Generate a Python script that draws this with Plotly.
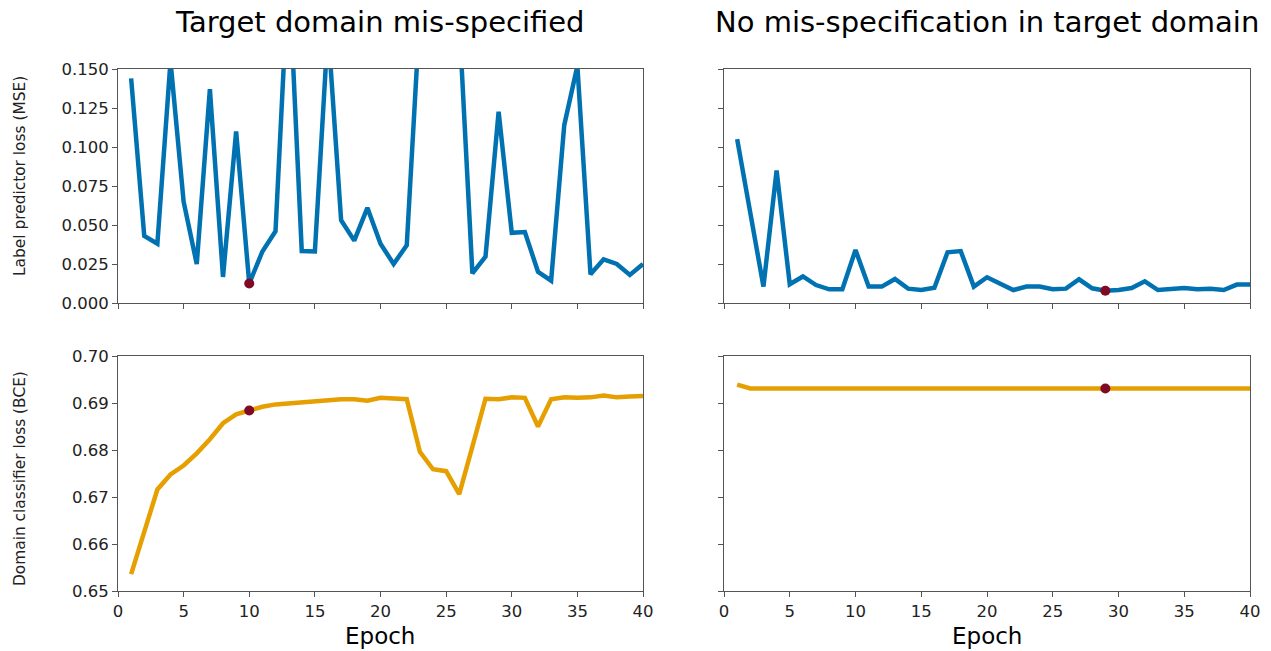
import plotly.graph_objects as go

epochs = list(range(1, 41))

mse_misspec = [0.144, 0.043, 0.038, 0.155, 0.065, 0.025, 0.137, 0.0167, 0.110, 0.0125,
               0.033, 0.046, 0.215, 0.0333, 0.033, 0.176, 0.053, 0.040, 0.061, 0.038,
               0.025, 0.037, 0.186, 0.30, 0.26, 0.181, 0.019, 0.0297, 0.1226, 0.045,
               0.0455, 0.020, 0.0143, 0.114, 0.152, 0.0184, 0.028, 0.025, 0.018, 0.025]
bce_misspec = [0.6536, 0.6626, 0.6716, 0.6748, 0.6767, 0.6793, 0.6823, 0.6857, 0.6876, 0.6884,
               0.6892, 0.6897, 0.6899, 0.6901, 0.6903, 0.6907, 0.6908, 0.6908, 0.6905, 0.6911,
               0.6910, 0.6908, 0.6796, 0.6759, 0.6755, 0.6706, 0.6807, 0.6909, 0.6908, 0.6912,
               0.6911, 0.6850, 0.6908, 0.6912, 0.6911, 0.6912, 0.6916, 0.6912, 0.6914, 0.6915]
mse_ok = [0.105, 0.057, 0.0105, 0.085, 0.012, 0.017, 0.0115, 0.0088, 0.0088, 0.034,
          0.0105, 0.0105, 0.0154, 0.0092, 0.0083, 0.0098, 0.0325, 0.0333, 0.0105, 0.0165,
          0.0126, 0.0083, 0.0105, 0.0105, 0.0088, 0.0092, 0.0152, 0.0094, 0.0079, 0.0083,
          0.0096, 0.0139, 0.0083, 0.0088, 0.0096, 0.0088, 0.0092, 0.0083, 0.0118, 0.0118]
bce_ok = [0.6939] + [0.6931] * 23 + [0.6929] + [0.6931] * 15

titles = ["Target domain mis-specified", "No mis-specification in target domain"]
x_ticks = [0, 5, 10, 15, 20, 25, 30, 35, 40]
mse_ticks = [0.0, 0.025, 0.05, 0.075, 0.1, 0.125, 0.15]
bce_ticks = [0.65, 0.66, 0.67, 0.68, 0.69, 0.70]

BLUE = "#0072B2"
ORANGE = "#E69F00"
DOT = "#7f0a24"
AX = "#555555"
FONT = "DejaVu Sans"

W, H = 1271, 651


def px(x):
    return x / W


def py(y):
    return 1 - y / H


xl = [px(118), px(643)]
xr = [px(724), px(1250)]
yt = [py(303), py(69)]
yb = [py(591), py(356)]

fig = go.Figure()

panels = [
    ("x", "y", mse_misspec, BLUE, mse_misspec),
    ("x2", "y2", mse_ok, BLUE, mse_ok),
    ("x3", "y3", bce_misspec, ORANGE, mse_misspec),
    ("x4", "y4", bce_ok, ORANGE, mse_ok),
]
for xa, ya, vals, col, ref in panels:
    fig.add_trace(go.Scatter(x=epochs, y=vals, mode="lines", xaxis=xa, yaxis=ya,
                             line=dict(color=col, width=4.5), showlegend=False, hoverinfo="skip"))
    best = ref.index(min(ref))
    fig.add_trace(go.Scatter(x=[epochs[best]], y=[vals[best]], mode="markers", xaxis=xa, yaxis=ya,
                             marker=dict(color=DOT, size=10), showlegend=False, cliponaxis=False))

common = dict(showline=True, linecolor=AX, linewidth=1, mirror=True, ticks="outside",
              ticklen=5, tickcolor=AX, showgrid=False, zeroline=False, automargin=False,
              tickfont=dict(family=FONT, size=16.5, color="#222222"))

xcommon = dict(range=[0, 40], tickvals=x_ticks, **common)
fig.update_layout(
    template="none",
    width=W, height=H, margin=dict(l=0, r=0, t=0, b=0, pad=0, autoexpand=False),
    plot_bgcolor="white", paper_bgcolor="white", showlegend=False,
    xaxis=dict(domain=xl, anchor="y", showticklabels=False, **xcommon),
    xaxis2=dict(domain=xr, anchor="y2", showticklabels=False, **xcommon),
    xaxis3=dict(domain=xl, anchor="y3", **xcommon),
    xaxis4=dict(domain=xr, anchor="y4", **xcommon),
    yaxis=dict(domain=yt, anchor="x", range=[0, 0.15], tickvals=mse_ticks, tickformat=".3f", **common),
    yaxis2=dict(domain=yt, anchor="x2", range=[0, 0.15], tickvals=mse_ticks, showticklabels=False, **common),
    yaxis3=dict(domain=yb, anchor="x3", range=[0.65, 0.70], tickvals=bce_ticks, tickformat=".2f", **common),
    yaxis4=dict(domain=yb, anchor="x4", range=[0.65, 0.70], tickvals=bce_ticks, showticklabels=False, **common),
)

ann = []
ann.append(dict(text=titles[0], x=(xl[0] + xl[1]) / 2, y=py(22), xref="paper", yref="paper",
                showarrow=False, font=dict(family=FONT, size=29, color="black"), xanchor="center", yanchor="middle"))
ann.append(dict(text=titles[1], x=(xr[0] + xr[1]) / 2, y=py(22), xref="paper", yref="paper",
                showarrow=False, font=dict(family=FONT, size=29, color="black"), xanchor="center", yanchor="middle"))
for xd in (xl, xr):
    ann.append(dict(text="Epoch", x=(xd[0] + xd[1]) / 2, y=py(636), xref="paper", yref="paper",
                    showarrow=False, font=dict(family=FONT, size=23, color="black"), xanchor="center", yanchor="middle"))
ann.append(dict(text="Label predictor loss (MSE)", x=px(20), y=py(176), xref="paper", yref="paper",
                showarrow=False, textangle=-90, font=dict(family=FONT, size=15.4, color="#222222"),
                xanchor="center", yanchor="middle"))
ann.append(dict(text="Domain classifier loss (BCE)", x=px(20), y=py(479), xref="paper", yref="paper",
                showarrow=False, textangle=-90, font=dict(family=FONT, size=15.4, color="#222222"),
                xanchor="center", yanchor="middle"))
fig.update_layout(annotations=ann)

fig.write_html("out.html")
